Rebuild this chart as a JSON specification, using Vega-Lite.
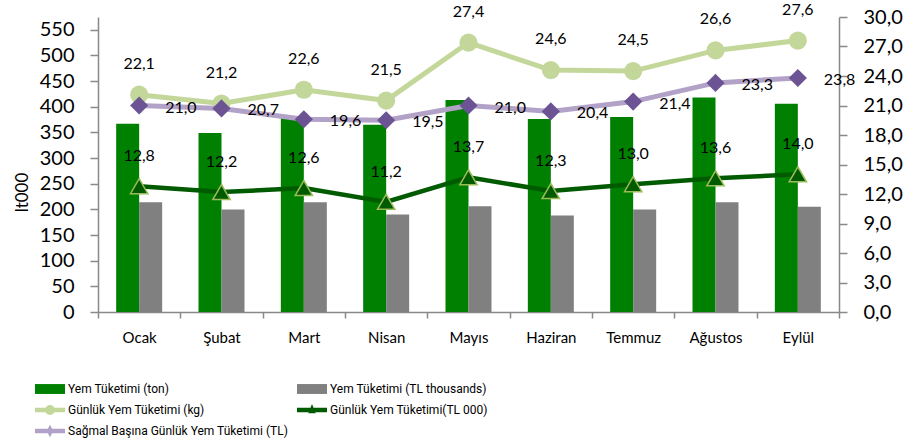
{
  "$schema": "https://vega.github.io/schema/vega-lite/v6.json",
  "width": 741,
  "height": 295,
  "autosize": {"type": "none"},
  "padding": {"left": 98, "top": 17, "right": 80, "bottom": 135},
  "config": {
    "view": {"stroke": null},
    "font": "Lato",
    "locale": {"number": {"decimal": ",", "thousands": ".", "grouping": [3], "currency": ["", " TL"]}},
    "axis": {"domainColor": "#898989", "tickColor": "#898989", "labelColor": "#000000", "labelFont": "Lato", "grid": false, "domainWidth": 1.5, "tickWidth": 1.5}
  },
  "data": {"values": [
    {"month": "Ocak", "series": "Yem Tüketimi  (ton)", "value": 367},
    {"month": "Şubat", "series": "Yem Tüketimi  (ton)", "value": 349},
    {"month": "Mart", "series": "Yem Tüketimi  (ton)", "value": 378},
    {"month": "Nisan", "series": "Yem Tüketimi  (ton)", "value": 365},
    {"month": "Mayıs", "series": "Yem Tüketimi  (ton)", "value": 413},
    {"month": "Haziran", "series": "Yem Tüketimi  (ton)", "value": 376},
    {"month": "Temmuz", "series": "Yem Tüketimi  (ton)", "value": 380},
    {"month": "Ağustos", "series": "Yem Tüketimi  (ton)", "value": 418},
    {"month": "Eylül", "series": "Yem Tüketimi  (ton)", "value": 406},
    {"month": "Ocak", "series": "Yem Tüketimi  (TL thousands)", "value": 214},
    {"month": "Şubat", "series": "Yem Tüketimi  (TL thousands)", "value": 200},
    {"month": "Mart", "series": "Yem Tüketimi  (TL thousands)", "value": 214},
    {"month": "Nisan", "series": "Yem Tüketimi  (TL thousands)", "value": 190},
    {"month": "Mayıs", "series": "Yem Tüketimi  (TL thousands)", "value": 206},
    {"month": "Haziran", "series": "Yem Tüketimi  (TL thousands)", "value": 188},
    {"month": "Temmuz", "series": "Yem Tüketimi  (TL thousands)", "value": 200},
    {"month": "Ağustos", "series": "Yem Tüketimi  (TL thousands)", "value": 214},
    {"month": "Eylül", "series": "Yem Tüketimi  (TL thousands)", "value": 205},
    {"month": "Ocak", "series": "Günlük Yem Tüketimi (kg)", "value": 22.1},
    {"month": "Şubat", "series": "Günlük Yem Tüketimi (kg)", "value": 21.2},
    {"month": "Mart", "series": "Günlük Yem Tüketimi (kg)", "value": 22.6},
    {"month": "Nisan", "series": "Günlük Yem Tüketimi (kg)", "value": 21.5},
    {"month": "Mayıs", "series": "Günlük Yem Tüketimi (kg)", "value": 27.4},
    {"month": "Haziran", "series": "Günlük Yem Tüketimi (kg)", "value": 24.6},
    {"month": "Temmuz", "series": "Günlük Yem Tüketimi (kg)", "value": 24.5},
    {"month": "Ağustos", "series": "Günlük Yem Tüketimi (kg)", "value": 26.6},
    {"month": "Eylül", "series": "Günlük Yem Tüketimi (kg)", "value": 27.6},
    {"month": "Ocak", "series": "Günlük Yem Tüketimi(TL 000)", "value": 12.8},
    {"month": "Şubat", "series": "Günlük Yem Tüketimi(TL 000)", "value": 12.2},
    {"month": "Mart", "series": "Günlük Yem Tüketimi(TL 000)", "value": 12.6},
    {"month": "Nisan", "series": "Günlük Yem Tüketimi(TL 000)", "value": 11.2},
    {"month": "Mayıs", "series": "Günlük Yem Tüketimi(TL 000)", "value": 13.7},
    {"month": "Haziran", "series": "Günlük Yem Tüketimi(TL 000)", "value": 12.3},
    {"month": "Temmuz", "series": "Günlük Yem Tüketimi(TL 000)", "value": 13.0},
    {"month": "Ağustos", "series": "Günlük Yem Tüketimi(TL 000)", "value": 13.6},
    {"month": "Eylül", "series": "Günlük Yem Tüketimi(TL 000)", "value": 14.0},
    {"month": "Ocak", "series": "Sağmal Başına Günlük Yem Tüketimi (TL)", "value": 21.0},
    {"month": "Şubat", "series": "Sağmal Başına Günlük Yem Tüketimi (TL)", "value": 20.7},
    {"month": "Mart", "series": "Sağmal Başına Günlük Yem Tüketimi (TL)", "value": 19.6},
    {"month": "Nisan", "series": "Sağmal Başına Günlük Yem Tüketimi (TL)", "value": 19.5},
    {"month": "Mayıs", "series": "Sağmal Başına Günlük Yem Tüketimi (TL)", "value": 21.0},
    {"month": "Haziran", "series": "Sağmal Başına Günlük Yem Tüketimi (TL)", "value": 20.4},
    {"month": "Temmuz", "series": "Sağmal Başına Günlük Yem Tüketimi (TL)", "value": 21.4},
    {"month": "Ağustos", "series": "Sağmal Başına Günlük Yem Tüketimi (TL)", "value": 23.3},
    {"month": "Eylül", "series": "Sağmal Başına Günlük Yem Tüketimi (TL)", "value": 23.8}
  ]},
  "resolve": {"scale": {"y": "independent"}},
  "layer": [
    {
      "transform": [{"filter": {"field": "series", "oneOf": ["Yem Tüketimi  (ton)", "Yem Tüketimi  (TL thousands)"]}}],
      "mark": {"type": "bar"},
      "encoding": {
        "x": {"field": "month", "type": "nominal", "sort": ["Ocak", "Şubat", "Mart", "Nisan", "Mayıs", "Haziran", "Temmuz", "Ağustos", "Eylül"], "scale": {"paddingInner": 0, "paddingOuter": 0},
          "axis": {"title": null, "labelAngle": 0, "labelFontSize": 15, "tickBand": "extent", "tickSize": 6, "labelPadding": 12}},
        "xOffset": {"field": "series", "type": "nominal", "sort": ["Yem Tüketimi  (ton)", "Yem Tüketimi  (TL thousands)"], "scale": {"paddingInner": 0, "paddingOuter": 0.79}},
        "y": {"field": "value", "type": "quantitative", "scale": {"domain": [0, 575], "nice": false},
          "axis": {"orient": "left", "values": [0, 50, 100, 150, 200, 250, 300, 350, 400, 450, 500, 550], "labelFontSize": 20, "tickSize": 8, "labelPadding": 16,
            "title": "lt000", "titleFontSize": 17, "titleFontWeight": "normal", "titleFont": "Lato", "titleX": -76, "titleY": 175, "titleAngle": 270, "titleAlign": "center", "titleBaseline": "middle"}},
        "color": {"field": "series", "type": "nominal",
          "scale": {"domain": ["Yem Tüketimi  (ton)", "Yem Tüketimi  (TL thousands)", "Günlük Yem Tüketimi (kg)", "Günlük Yem Tüketimi(TL 000)", "Sağmal Başına Günlük Yem Tüketimi (TL)"],
                    "range": ["#008000", "#808080", "#c4d79b", "#005a00", "#b3a2c7"]},
          "legend": {"title": null, "orient": "none", "legendX": -63, "legendY": 357, "direction": "horizontal", "columns": 2, "columnPadding": 8, "rowPadding": -6,
            "symbolSize": 900, "symbolStrokeWidth": 0, "labelFont": "Roboto", "labelFontSize": 12, "labelColor": "#000000", "labelOffset": 3, "labelLimit": 300,
            "encode": {"symbols": {"update": {"shape": {"signal": "datum.value == 'Yem Tüketimi  (ton)' || datum.value == 'Yem Tüketimi  (TL thousands)' ? 'M-1,-0.33H1V0.33H-1Z' : datum.value == 'Günlük Yem Tüketimi (kg)' ? 'M-1,-0.15H1V0.15H-1Z M-0.33,0A0.33,0.33 0 1,1 0.33,0A0.33,0.33 0 1,1 -0.33,0Z' : datum.value == 'Günlük Yem Tüketimi(TL 000)' ? 'M-1,-0.15H1V0.15H-1Z M0,-0.4L0.25,0.22L-0.25,0.22Z' : 'M-1,-0.15H1V0.15H-1Z M0,-0.42L0.22,0L0,0.42L-0.22,0Z'"}, "strokeWidth": {"value": 0}}}}}}
      }
    },
    {
      "encoding": {
        "x": {"field": "month", "type": "nominal", "sort": ["Ocak", "Şubat", "Mart", "Nisan", "Mayıs", "Haziran", "Temmuz", "Ağustos", "Eylül"]},
        "y": {"field": "value", "type": "quantitative", "scale": {"domain": [0, 30], "nice": false},
          "axis": {"orient": "right", "title": null, "values": [0, 3, 6, 9, 12, 15, 18, 21, 24, 27, 30], "format": ".1f", "labelFontSize": 20, "tickSize": 8, "labelPadding": 16}}
      },
      "layer": [
        {
          "transform": [{"filter": {"field": "series", "equal": "Günlük Yem Tüketimi (kg)"}}],
          "layer": [
            {"mark": {"type": "line", "strokeWidth": 5}, "encoding": {"color": {"field": "series", "type": "nominal", "legend": null}}},
            {"mark": {"type": "point", "shape": "circle", "filled": true, "opacity": 1, "size": 330, "color": "#c4d79b"}, "encoding": {}},
            {"mark": {"type": "text", "dy": -31, "fontSize": 16, "font": "Lato", "color": "#000000"}, "encoding": {"text": {"field": "value", "type": "quantitative", "format": ".1f"}}}
          ]
        },
        {
          "transform": [{"filter": {"field": "series", "equal": "Sağmal Başına Günlük Yem Tüketimi (TL)"}}],
          "layer": [
            {"mark": {"type": "line", "strokeWidth": 5}, "encoding": {"color": {"field": "series", "type": "nominal", "legend": null}}},
            {"mark": {"type": "point", "shape": "diamond", "filled": true, "opacity": 1, "size": 330, "color": "#6c5494"}, "encoding": {}},
            {"mark": {"type": "text", "dx": 26, "dy": 2, "align": "left", "fontSize": 16, "font": "Lato", "color": "#000000"}, "encoding": {"text": {"field": "value", "type": "quantitative", "format": ".1f"}}}
          ]
        },
        {
          "transform": [{"filter": {"field": "series", "equal": "Günlük Yem Tüketimi(TL 000)"}}],
          "layer": [
            {"mark": {"type": "line", "strokeWidth": 4.5}, "encoding": {"color": {"field": "series", "type": "nominal", "legend": null}}},
            {"mark": {"type": "point", "shape": "triangle-up", "filled": true, "opacity": 1, "size": 300, "fill": "#005a00", "stroke": "#9bbb59", "strokeWidth": 1.5}, "encoding": {}},
            {"mark": {"type": "text", "dy": -30, "fontSize": 16, "font": "Lato", "color": "#000000"}, "encoding": {"text": {"field": "value", "type": "quantitative", "format": ".1f"}}}
          ]
        }
      ]
    }
  ]
}
